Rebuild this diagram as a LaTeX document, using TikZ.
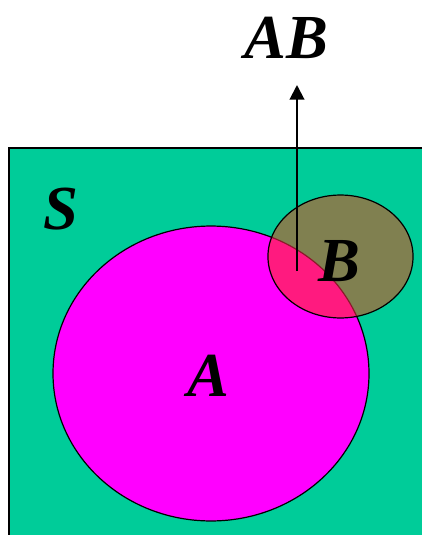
\documentclass[tikz,border=0pt]{standalone}
\usepackage{fontspec}
\setmainfont{Liberation Serif}
\usepackage{xcolor}
\definecolor{vennteal}{HTML}{00CC99}
\definecolor{vennmag}{HTML}{FF00FF}
\definecolor{vennolive}{HTML}{808050}
\definecolor{vennpink}{HTML}{FF1A7F}
\definecolor{vennedge}{HTML}{8B1A2A}
\usetikzlibrary{arrows.meta,positioning,calc}

\begin{document}
\begin{tikzpicture}[x=0.75pt,y=-0.75pt,
    setlabel/.style={font=\fontsize{47}{47}\selectfont\bfseries\itshape, inner sep=0pt}]

  \useasboundingbox (0,0) rectangle (421,535);

  %% Sample space
  \draw[fill=vennteal, line width=1.5pt] (9,148) rectangle (440,560);

  %% Event A
  \coordinate (ca) at (211,373.5);
  \draw[fill=vennmag, line width=0.9pt] (ca) ellipse [x radius=118.5pt, y radius=110.6pt];

  %% Event B
  \coordinate (cb) at (340.5,256.5);
  \fill[vennolive] (cb) ellipse [x radius=54.4pt, y radius=46.1pt];

  %% Intersection AB
  \begin{scope}
    \clip (cb) ellipse [x radius=54.4pt, y radius=46.1pt];
    \fill[vennpink] (ca) ellipse [x radius=118.5pt, y radius=110.6pt];
    \draw[vennedge, line width=0.9pt] (ca) ellipse [x radius=118.5pt, y radius=110.6pt];
  \end{scope}
  \draw[line width=0.9pt] (cb) ellipse [x radius=54.4pt, y radius=46.1pt];

  %% Labels
  \node[setlabel] (lblS) at (61,209) {S};
  \node[setlabel] (lblA) at (208,376) {A};
  \node[setlabel] (lblB) at (339,261) {B};
  \node[setlabel] (lblAB) at (286,38) {AB};

  %% Arrow to AB
  \coordinate (tail) at (297,271);
  \coordinate (tip) at (297,85);
  \draw[-{Triangle[length=11pt,width=11pt]}, line width=1.5pt] (tail) -- (tip);

\end{tikzpicture}
\end{document}
